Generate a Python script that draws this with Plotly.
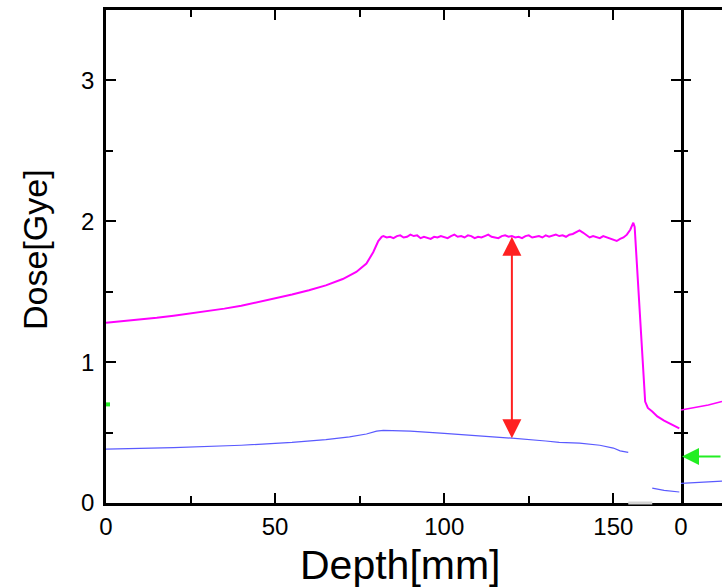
import plotly.graph_objects as go

# ---------------- data ----------------
# magenta curve: depth [mm] and dose [Gye]
ramp_depth = [0, 5, 10, 15, 20, 25, 30, 35, 40, 45, 50, 55, 60, 65, 70, 74, 77, 79, 80.5, 81.5]
ramp_dose = [1.28, 1.29, 1.30, 1.315, 1.33, 1.345, 1.36, 1.38, 1.40, 1.425, 1.45, 1.48,
             1.51, 1.545, 1.59, 1.64, 1.70, 1.78, 1.86, 1.89]

plateau_depth = list(range(82, 154))
plateau_dose = [1.895, 1.885, 1.89, 1.88, 1.895, 1.90, 1.885, 1.89, 1.905, 1.895,
                1.90, 1.88, 1.89, 1.885, 1.875, 1.89, 1.885, 1.895, 1.89, 1.88,
                1.895, 1.905, 1.89, 1.895, 1.885, 1.90, 1.895, 1.88, 1.89, 1.885,
                1.895, 1.905, 1.89, 1.885, 1.88, 1.895, 1.90, 1.89, 1.895, 1.885,
                1.89, 1.88, 1.895, 1.90, 1.885, 1.89, 1.895, 1.885, 1.90, 1.89,
                1.895, 1.905, 1.895, 1.90, 1.89, 1.905, 1.91, 1.925, 1.935, 1.92,
                1.90, 1.885, 1.895, 1.89, 1.88, 1.895, 1.885, 1.875, 1.87, 1.86,
                1.875, 1.885]

falloff_depth = [154, 155, 155.9, 156.3, 159.4, 160.2, 161.5, 163, 165, 167, 169.5]
falloff_dose = [1.905, 1.94, 1.99, 1.96, 0.72, 0.675, 0.65, 0.615, 0.585, 0.56, 0.53]

# blue curve
blue_depth = [0, 20, 40, 55, 65, 72, 77, 80, 82, 90, 100, 110, 120, 130, 134, 140, 146, 150, 152, 154.4]
blue_dose = [0.383, 0.393, 0.41, 0.43, 0.45, 0.47, 0.49, 0.51, 0.515, 0.51, 0.495, 0.48,
             0.46, 0.44, 0.43, 0.425, 0.41, 0.39, 0.37, 0.36]
blue2_depth = [161.5, 165, 169.5]
blue2_dose = [0.106, 0.09, 0.078]

# second (partly visible) panel at the right
right_x = [0, 4, 8, 12]
right_magenta = [0.66, 0.675, 0.695, 0.72]
right_blue = [0.14, 0.145, 0.15, 0.155]
right_green_y = 0.33

# red double arrow
arrow_depth = 120
arrow_top = 1.90
arrow_bottom = 0.46

# green mark at the left edge
green_mark_depth = 0.6
green_mark_dose = 0.70

# ---------------- figure ----------------
FONT = "Liberation Sans, Arial, sans-serif"
MAGENTA = "#ff00ff"
BLUE = "#5a5aff"

mag_x = ramp_depth + plateau_depth + falloff_depth
mag_y = ramp_dose + plateau_dose + falloff_dose

fig = go.Figure()
fig.add_trace(go.Scatter(x=mag_x, y=mag_y, mode="lines",
                         line=dict(color=MAGENTA, width=2), showlegend=False))
fig.add_trace(go.Scatter(x=blue_depth, y=blue_dose, mode="lines",
                         line=dict(color=BLUE, width=1.2), showlegend=False))
fig.add_trace(go.Scatter(x=blue2_depth, y=blue2_dose, mode="lines",
                         line=dict(color=BLUE, width=1.2), showlegend=False))
fig.add_trace(go.Scatter(x=[green_mark_depth], y=[green_mark_dose], mode="markers",
                         marker=dict(symbol="square", size=4, color="#22ee22"),
                         cliponaxis=False, showlegend=False))
fig.add_trace(go.Scatter(x=right_x, y=right_magenta, mode="lines", xaxis="x2", yaxis="y2",
                         line=dict(color=MAGENTA, width=1.5), showlegend=False))
fig.add_trace(go.Scatter(x=right_x, y=right_blue, mode="lines", xaxis="x2", yaxis="y2",
                         line=dict(color=BLUE, width=1.2), showlegend=False))

split = 575 / 616

fig.update_layout(
    width=722, height=588,
    margin=dict(l=106, r=0, t=10, b=85, pad=0),
    paper_bgcolor="white", plot_bgcolor="white",
    font=dict(family=FONT, color="black"),
    xaxis=dict(domain=[0, split], range=[0, 170], tickmode="linear", tick0=0, dtick=50,
               ticks="inside", ticklen=10, tickwidth=2, tickcolor="black",
               minor=dict(tickmode="linear", tick0=0, dtick=25, ticks="inside", ticklen=7,
                          tickwidth=2, tickcolor="black"),
               showline=True, linewidth=2.5, linecolor="black", mirror="ticks",
               showgrid=False, zeroline=False, layer="above traces",
               tickfont=dict(size=24, family=FONT)),
    yaxis=dict(domain=[0, 1], range=[0, 3.5], tickmode="linear", tick0=0, dtick=1,
               ticks="inside", ticklen=10, tickwidth=2, tickcolor="black",
               minor=dict(tickmode="linear", tick0=0, dtick=0.5, ticks="inside", ticklen=7,
                          tickwidth=2, tickcolor="black"),
               showline=True, linewidth=2.5, linecolor="black", mirror="ticks",
               showgrid=False, zeroline=False, layer="above traces",
               ticklabelstandoff=4,
               tickfont=dict(size=24, family=FONT)),
    xaxis2=dict(domain=[split, 1], range=[0, 12], anchor="y2",
                tickvals=[0], ticktext=["0"], ticks="",
                showline=True, linewidth=2.5, linecolor="black", mirror=True,
                showgrid=False, zeroline=False,
                tickfont=dict(size=24, family=FONT)),
    yaxis2=dict(domain=[0, 1], range=[0, 3.5], anchor="x2", tickmode="linear", tick0=0, dtick=1,
                showticklabels=False,
                ticks="inside", ticklen=10, tickwidth=2, tickcolor="black",
                minor=dict(tickmode="linear", tick0=0, dtick=0.5, ticks="inside", ticklen=7,
                           tickwidth=2, tickcolor="black"),
                showline=False, showgrid=False, zeroline=False),
)

# gap in the bottom axis line between the two overlapping panels
fig.add_shape(type="line", xref="x", yref="paper", x0=blue_depth[-1], x1=blue2_depth[0],
              y0=0, y1=0, line=dict(color="#d4d4d4", width=3), layer="above")

# red double arrow
fig.add_annotation(x=arrow_depth, y=arrow_bottom, ax=arrow_depth, ay=arrow_top,
                   xref="x", yref="y", axref="x", ayref="y", text="",
                   showarrow=True, arrowside="end+start", arrowhead=2, arrowsize=1.9,
                   arrowwidth=2, arrowcolor="#ff2020", standoff=0, startstandoff=0)
# green arrow in the right panel
fig.add_annotation(x=0.3, y=right_green_y, ax=right_x[-1], ay=right_green_y,
                   xref="x2", yref="y2", axref="x2", ayref="y2", text="",
                   showarrow=True, arrowhead=2, arrowsize=1.7,
                   arrowwidth=2, arrowcolor="#22ee22", standoff=0, startstandoff=0)

# axis titles
fig.add_annotation(text="Dose[Gye]", xref="paper", yref="paper",
                   x=(35 - 106) / 616, y=(503 - 250) / 493, showarrow=False,
                   textangle=-90, font=dict(size=34, family=FONT),
                   xanchor="center", yanchor="middle")
fig.add_annotation(text="Depth[mm]", xref="paper", yref="paper",
                   x=(400 - 106) / 616, y=(503 - 565) / 493, showarrow=False,
                   font=dict(size=41, family=FONT),
                   xanchor="center", yanchor="middle")

fig.write_html("out.html")
